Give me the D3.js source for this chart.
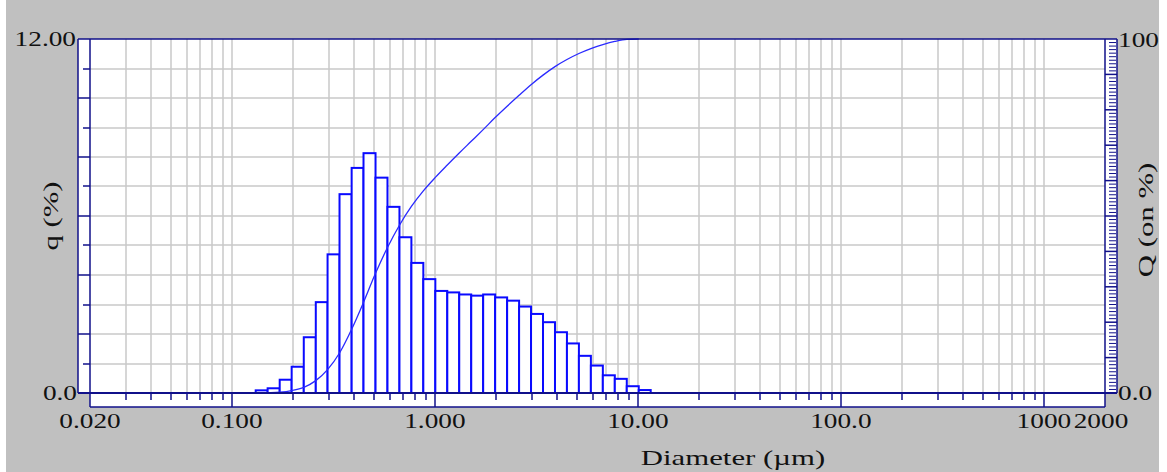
<!DOCTYPE html>
<html>
<head>
<meta charset="utf-8">
<script src="https://cdn.jsdelivr.net/npm/d3@7"></script>
<style>
  body { margin: 0; background: #fff; }
  svg text { font-family: "Liberation Serif", "DejaVu Serif", serif; fill: #111; }
</style>
</head>
<body>
<div id="chart"></div>
<script>
// channel edges of the size classes (um)
const edges = [0.131, 0.150, 0.172, 0.197, 0.226, 0.259, 0.296, 0.339, 0.389, 0.445,
  0.510, 0.584, 0.669, 0.766, 0.877, 1.005, 1.151, 1.318, 1.510, 1.729,
  1.981, 2.269, 2.599, 2.976, 3.409, 3.905, 4.472, 5.122, 5.867, 6.720,
  7.697, 8.816, 10.097, 11.565];
// q (%) per class
const qValues = [0.09, 0.16, 0.45, 0.89, 1.89, 3.08, 4.70, 6.74, 7.63, 8.13,
  7.30, 6.31, 5.28, 4.41, 3.86, 3.46, 3.41, 3.34, 3.30, 3.34,
  3.24, 3.13, 2.93, 2.68, 2.40, 2.06, 1.68, 1.26, 0.93, 0.60,
  0.48, 0.23, 0.10];
// Q (on %) undersize at each edge (curve stops once it reaches 100)
const cumValues = [0, 0.1, 0.25, 0.7, 1.6, 3.5, 6.6, 11.3, 18.0, 25.6,
  33.8, 41.1, 47.4, 52.7, 57.1, 60.9, 64.4, 67.8, 71.1, 74.4,
  77.8, 81.0, 84.1, 87.1, 89.8, 92.2, 94.2, 95.9, 97.3, 98.4,
  99.3, 99.9, 100];
const xTickValues = [0.02, 0.1, 1, 10, 100, 1000, 2000];
const xTickLabels = ["0.020", "0.100", "1.000", "10.00", "100.0", "1000", "2000"];
const leftAxisLabels = ["0.0", "12.00"];
const rightAxisLabels = ["0.0", "100"];

var width = 1167, height = 472;
var svg = d3.select("#chart").append("svg")
  .attr("width", width)
  .attr("height", height);

var navy = "#10108a";
var blue = "#0a0aff";

svg.append("rect").attr("x", 6).attr("y", 0).attr("width", 1153).attr("height", height).attr("fill", "#c0c0c0");

var x = d3.scaleLog().domain([0.02, 2000]).range([90, 1105]);
var y = d3.scaleLinear().domain([0, 12]).range([393, 39]);
var y2 = d3.scaleLinear().domain([0, 100]).range([393, 39]);

// white panels
svg.append("rect").attr("x", 78).attr("y", 39).attr("width", 1117 - 78).attr("height", 393 - 39).attr("fill", "#fff");
svg.append("rect").attr("x", 90).attr("y", 393).attr("width", 1105 - 90).attr("height", 14).attr("fill", "#fff");

// grid
var grid = svg.append("g").attr("stroke", "#c8c8c8").attr("stroke-width", 1.5);
var vTicks = x.ticks().filter(d => d > 0.0201 && d < 1999);
grid.selectAll(".vg").data(vTicks).enter().append("line")
  .attr("x1", d => Math.round(x(d))).attr("x2", d => Math.round(x(d)))
  .attr("y1", 39).attr("y2", 393);
grid.selectAll(".hg").data(d3.range(1, 12)).enter().append("line")
  .attr("x1", 90).attr("x2", 1105)
  .attr("y1", d => Math.round(y(d))).attr("y2", d => Math.round(y(d)));

// bars
var bins = qValues.map((q, i) => ({ x0: edges[i], x1: edges[i + 1], q: q }));
svg.append("g").selectAll("rect").data(bins).enter().append("rect")
  .attr("x", d => x(d.x0))
  .attr("y", d => y(d.q))
  .attr("width", d => x(d.x1) - x(d.x0))
  .attr("height", d => y(0) - y(d.q))
  .attr("fill", "#fff")
  .attr("stroke", blue)
  .attr("stroke-width", 2);

// cumulative curve
var line = d3.line()
  .x((d, i) => x(edges[i]))
  .y(d => y2(d))
  .curve(d3.curveMonotoneX);
svg.append("path")
  .datum(cumValues)
  .attr("d", line)
  .attr("fill", "none")
  .attr("stroke", "#2a2aff")
  .attr("stroke-width", 1.3);

// frame and axes
var ax = svg.append("g").attr("stroke", navy).attr("stroke-width", 1.5).attr("fill", "none");
ax.append("line").attr("x1", 78).attr("x2", 1117).attr("y1", 39).attr("y2", 39);
ax.append("line").attr("x1", 78).attr("x2", 1117).attr("y1", 393).attr("y2", 393).attr("stroke-width", 2);
ax.append("line").attr("x1", 78).attr("x2", 78).attr("y1", 39).attr("y2", 393);
ax.append("line").attr("x1", 90).attr("x2", 90).attr("y1", 39).attr("y2", 407);
ax.append("line").attr("x1", 1105).attr("x2", 1105).attr("y1", 39).attr("y2", 407);
ax.append("line").attr("x1", 1117).attr("x2", 1117).attr("y1", 39).attr("y2", 393);
ax.append("line").attr("x1", 90).attr("x2", 1105).attr("y1", 407).attr("y2", 407);

// left ticks
ax.selectAll(".lt").data(d3.range(1, 12)).enter().append("line")
  .attr("x1", d => d % 2 === 0 ? 78 : 83).attr("x2", 90)
  .attr("y1", d => Math.round(y(d))).attr("y2", d => Math.round(y(d)));

// right ticks
ax.selectAll(".rt").data(d3.range(1, 100)).enter().append("line")
  .attr("x1", d => d % 10 === 0 ? 1105 : 1109)
  .attr("x2", d => d % 10 === 0 ? 1117 : 1116)
  .attr("y1", d => y2(d)).attr("y2", d => y2(d))
  .attr("stroke-width", d => d % 10 === 0 ? 1.5 : 1);

// bottom ticks
ax.selectAll(".bt").data(x.ticks().filter(d => d > 0.0201 && d < 1999)).enter().append("line")
  .attr("x1", d => Math.round(x(d))).attr("x2", d => Math.round(x(d)))
  .attr("y1", 393)
  .attr("y2", d => Math.abs(Math.log10(d) - Math.round(Math.log10(d))) < 1e-6 ? 407 : 400);

// text helper: the original fonts are horizontally stretched
function label(txt, tx, ty, anchor, size, sx, rot) {
  return svg.append("text")
    .attr("transform", "translate(" + tx + "," + ty + ") rotate(" + (rot || 0) + ") scale(" + sx + ",1)")
    .attr("text-anchor", anchor)
    .style("font-size", size + "px")
    .text(txt);
}

label(leftAxisLabels[1], 76, 46, "end", 21, 1.3);
label(leftAxisLabels[0], 77, 400, "end", 21, 1.3);
label(rightAxisLabels[1], 1118, 47, "start", 21, 1.3);
label(rightAxisLabels[0], 1118, 400, "start", 21, 1.3);

xTickValues.forEach((v, i) => {
  var px = x(v);
  if (v === 2000) px = 1101;
  label(xTickLabels[i], px, 428, "middle", 21, 1.3);
});

label("Diameter (\u00b5m)", 733, 465, "middle", 22, 1.4);
label("q (%)", 58, 216, "middle", 22, 1.4, -90);
label("Q (on %)", 1153, 220, "middle", 22, 1.4, -90);
</script>
</body>
</html>
